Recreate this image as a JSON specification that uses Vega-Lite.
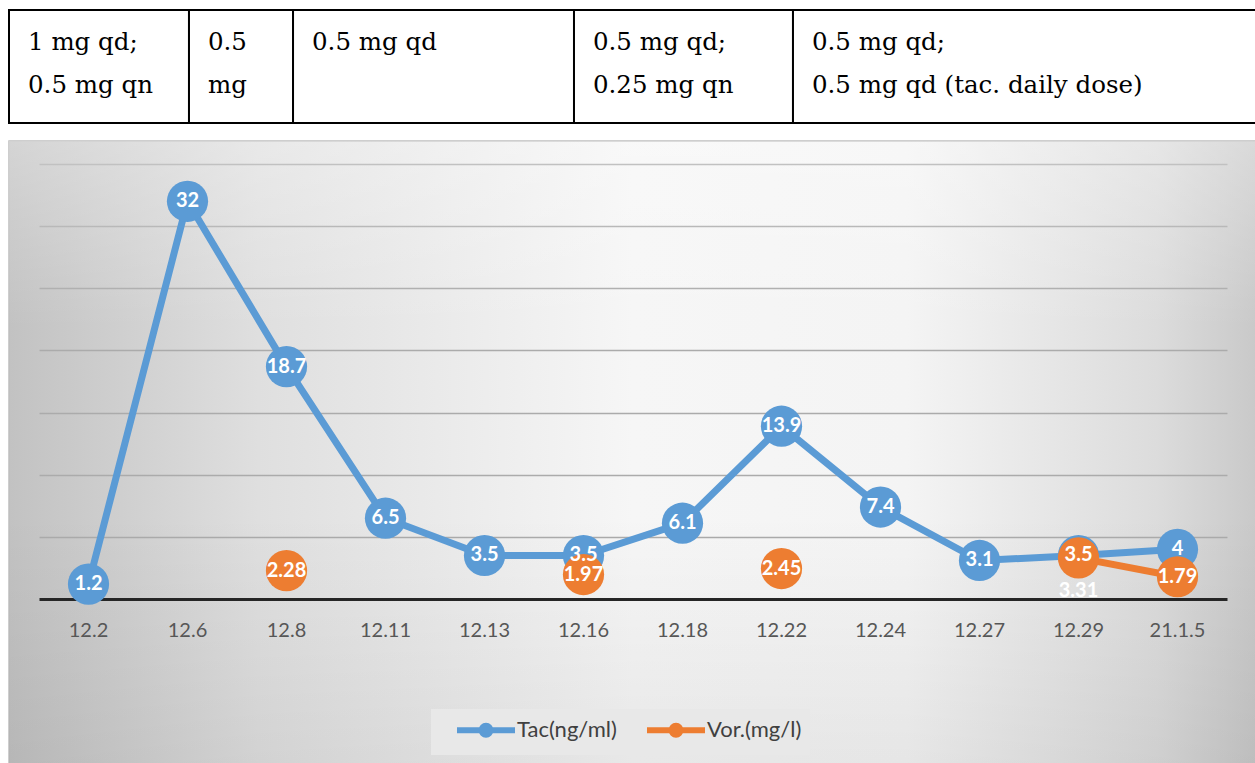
{
  "$schema": "https://vega.github.io/schema/vega-lite/v6.json",
  "background": "white",
  "padding": {"left": 8, "top": 9, "right": 0, "bottom": 0},
  "spacing": 16,
  "config": {"text": {"lineBreak": "\n"}},
  "datasets": {
    "regimen": [
      {"regimen": "1 mg qd;\n0.5 mg qn", "from": -0.803, "to": 1.015},
      {"regimen": "0.5\nmg", "from": 1.015, "to": 2.066},
      {"regimen": "0.5 mg qd", "from": 2.066, "to": 4.904},
      {"regimen": "0.5 mg qd;\n0.25 mg qn", "from": 4.904, "to": 7.116},
      {"regimen": "0.5 mg qd;\n0.5 mg qd (tac. daily dose)", "from": 7.116, "to": 11.793}
    ],
    "levels": [
      {"date": "12.2", "series": "Tac(ng/ml)", "value": 1.2},
      {"date": "12.6", "series": "Tac(ng/ml)", "value": 32},
      {"date": "12.8", "series": "Tac(ng/ml)", "value": 18.7},
      {"date": "12.11", "series": "Tac(ng/ml)", "value": 6.5},
      {"date": "12.13", "series": "Tac(ng/ml)", "value": 3.5},
      {"date": "12.16", "series": "Tac(ng/ml)", "value": 3.5},
      {"date": "12.18", "series": "Tac(ng/ml)", "value": 6.1},
      {"date": "12.22", "series": "Tac(ng/ml)", "value": 13.9},
      {"date": "12.24", "series": "Tac(ng/ml)", "value": 7.4},
      {"date": "12.27", "series": "Tac(ng/ml)", "value": 3.1},
      {"date": "12.29", "series": "Tac(ng/ml)", "value": 3.5},
      {"date": "21.1.5", "series": "Tac(ng/ml)", "value": 4},
      {"date": "12.2", "series": "Vor.(mg/l)", "value": null},
      {"date": "12.6", "series": "Vor.(mg/l)", "value": null},
      {"date": "12.8", "series": "Vor.(mg/l)", "value": 2.28},
      {"date": "12.11", "series": "Vor.(mg/l)", "value": null},
      {"date": "12.13", "series": "Vor.(mg/l)", "value": null},
      {"date": "12.16", "series": "Vor.(mg/l)", "value": 1.97},
      {"date": "12.18", "series": "Vor.(mg/l)", "value": null},
      {"date": "12.22", "series": "Vor.(mg/l)", "value": 2.45},
      {"date": "12.24", "series": "Vor.(mg/l)", "value": null},
      {"date": "12.27", "series": "Vor.(mg/l)", "value": null},
      {"date": "12.29", "series": "Vor.(mg/l)", "value": 3.31},
      {"date": "21.1.5", "series": "Vor.(mg/l)", "value": 1.79}
    ]
  },
  "vconcat": [
    {
      "width": 1247,
      "height": 113,
      "data": {"name": "regimen"},
      "view": {"stroke": null},
      "layer": [
        {
          "mark": {"type": "rect", "fill": "white", "stroke": "black", "strokeWidth": 2},
          "encoding": {
            "x": {"field": "from", "type": "quantitative", "scale": {"domain": [-0.803, 11.793], "nice": false, "zero": false}, "axis": null},
            "x2": {"field": "to"}
          }
        },
        {
          "mark": {"type": "text", "align": "left", "baseline": "alphabetic", "dx": 19, "dy": -17, "font": "DejaVu Serif", "fontSize": 24.5, "lineHeight": 43, "color": "black"},
          "encoding": {
            "x": {"field": "from", "type": "quantitative"},
            "text": {"field": "regimen"}
          }
        }
      ]
    },
    {
      "width": 1247,
      "height": 623,
      "view": {
        "stroke": "#bfbfbf",
        "strokeWidth": 1.5,
        "fill": {"gradient": "linear", "x1": 0, "y1": 0, "x2": 1, "y2": 0, "stops": [
          {"offset": 0, "color": "#c2c2c2"},
          {"offset": 0.2, "color": "#dfdfdf"},
          {"offset": 0.5, "color": "#f6f6f6"},
          {"offset": 0.72, "color": "#f4f4f4"},
          {"offset": 0.92, "color": "#dcdcdc"},
          {"offset": 1, "color": "#c9c9c9"}
        ]}
      },
      "layer": [
        {
          "data": {"values": [{}]},
          "mark": {"type": "rect", "fill": {"gradient": "linear", "x1": 0, "y1": 0, "x2": 0, "y2": 1, "stops": [
            {"offset": 0, "color": "rgba(255,255,255,0.3)"},
            {"offset": 0.3, "color": "rgba(255,255,255,0)"},
            {"offset": 0.6, "color": "rgba(0,0,0,0)"},
            {"offset": 1, "color": "rgba(0,0,0,0.06)"}
          ]}},
          "encoding": {}
        },
        {
          "data": {"name": "levels"},
          "encoding": {
            "x": {
              "field": "date", "type": "ordinal",
              "sort": ["12.2", "12.6", "12.8", "12.11", "12.13", "12.16", "12.18", "12.22", "12.24", "12.27", "12.29", "21.1.5"],
              "bandPosition": 0.5,
              "scale": {"type": "band", "range": [30, 1218], "paddingInner": 0, "paddingOuter": 0},
              "axis": {"orient": "bottom", "offset": -165, "title": null, "ticks": false, "grid": false, "domainColor": "#262626", "domainWidth": 3, "labelFont": "Lato", "labelFontSize": 20, "labelColor": "#595959", "labelPadding": 21, "labelAngle": 0}
            },
            "y": {
              "field": "value", "type": "quantitative",
              "scale": {"domain": [-13.276, 36.85], "nice": false, "zero": false},
              "axis": {"values": [5, 10, 15, 20, 25, 30, 35], "grid": true, "gridColor": "#ababab", "gridWidth": 1.5, "labels": false, "ticks": false, "domain": false, "title": null, "minExtent": 0, "maxExtent": 0}
            },
            "color": {
              "field": "series", "type": "nominal",
              "scale": {"domain": ["Tac(ng/ml)", "Vor.(mg/l)"], "range": ["#5b9bd5", "#ed7d31"]},
              "legend": {
                "orient": "none", "legendX": 422, "legendY": 699, "direction": "horizontal", "title": null,
                "fillColor": "#e8e8e8", "padding": 8, "columnPadding": 12,
                "symbolType": "M-2.9,0H2.9M0.45,0A0.45,0.45,0,1,1,-0.45,0A0.45,0.45,0,1,1,0.45,0",
                "symbolSize": 400, "symbolOffset": 34, "symbolStrokeWidth": 6, "symbolOpacity": 1,
                "labelFont": "Lato", "labelFontSize": 22, "labelColor": "#404040", "labelOffset": 18, "labelLimit": 300,
                "encode": {"symbols": {"update": {"fill": {"scale": "color", "field": "value"}, "stroke": {"scale": "color", "field": "value"}, "strokeWidth": {"value": 6}, "opacity": {"value": 1}}}}
              }
            }
          },
          "layer": [
            {
              "transform": [{"filter": "datum.series === 'Tac(ng/ml)'"}],
              "mark": {"type": "line", "strokeWidth": 7}
            },
            {
              "transform": [{"filter": "datum.series === 'Tac(ng/ml)'"}],
              "mark": {"type": "point", "filled": true, "size": 1700, "opacity": 1}
            },
            {
              "transform": [{"filter": "datum.series === 'Vor.(mg/l)'"}],
              "mark": {"type": "line", "strokeWidth": 7}
            },
            {
              "transform": [{"filter": "datum.series === 'Vor.(mg/l)' && datum.value != null"}],
              "mark": {"type": "point", "filled": true, "size": 1700, "opacity": 1}
            },
            {
              "transform": [{"filter": "datum.series === 'Tac(ng/ml)'"}],
              "mark": {"type": "text", "font": "Lato", "fontWeight": "bold", "fontSize": 20, "baseline": "middle", "align": "center"},
              "encoding": {"text": {"field": "value", "type": "quantitative"}, "color": {"value": "white"}}
            },
            {
              "transform": [{"filter": "datum.series === 'Vor.(mg/l)' && datum.value != null && datum.date !== '12.29'"}],
              "mark": {"type": "text", "font": "Lato", "fontWeight": "bold", "fontSize": 20, "baseline": "middle", "align": "center"},
              "encoding": {"text": {"field": "value", "type": "quantitative"}, "color": {"value": "white"}}
            },
            {
              "transform": [{"filter": "datum.series === 'Vor.(mg/l)' && datum.date === '12.29'"}],
              "mark": {"type": "text", "font": "Lato", "fontWeight": "bold", "fontSize": 20, "baseline": "middle", "align": "center", "dy": 33},
              "encoding": {"text": {"field": "value", "type": "quantitative"}, "color": {"value": "white"}}
            }
          ]
        }
      ]
    }
  ]
}
